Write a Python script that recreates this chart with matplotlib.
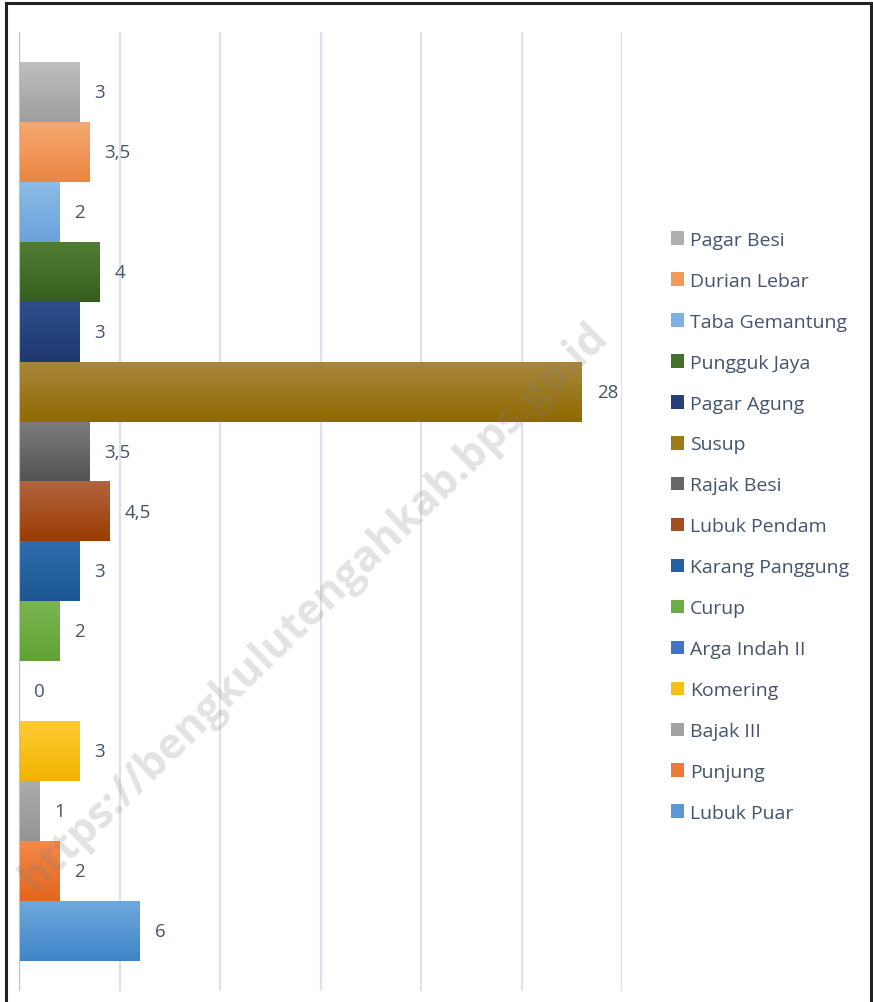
import numpy as np
import matplotlib
matplotlib.use("Agg")
import matplotlib.pyplot as plt
from matplotlib.colors import LinearSegmentedColormap
from matplotlib.patches import Rectangle, Patch

# Data (top to bottom as shown in the chart)
villages = ["Pagar Besi", "Durian Lebar", "Taba Gemantung", "Pungguk Jaya", "Pagar Agung",
            "Susup", "Rajak Besi", "Lubuk Pendam", "Karang Panggung", "Curup",
            "Arga Indah II", "Komering", "Bajak III", "Punjung", "Lubuk Puar"]
values = [3, 3.5, 2, 4, 3, 28, 3.5, 4.5, 3, 2, 0, 3, 1, 2, 6]
labels = ["3", "3,5", "2", "4", "3", "28", "3,5", "4,5", "3", "2", "0", "3", "1", "2", "6"]

# gradient colours (top, bottom) per bar
grad_top = ["#BEBEBE", "#F5A872", "#8CBBE6", "#517D36", "#2E4E8A", "#A8873C", "#7C7C7C",
            "#B2643F", "#2F6CAB", "#7BB552", "#4A78C8", "#FFCB35", "#ABABAB", "#F3894A", "#6FA8DD"]
grad_bot = ["#9E9E9E", "#EB8641", "#6AA2DA", "#365E1E", "#1E3870", "#8F6A00", "#525252",
            "#9A3C02", "#1D5794", "#61A236", "#3A66B8", "#F0B400", "#959595", "#E5661C", "#3E85C7"]
legend_col = ["#AFAFAF", "#F29A5C", "#7EB1E2", "#44702B", "#263F7B", "#9C7A18", "#666666",
              "#A54F20", "#26619F", "#6EAD45", "#4472C4", "#F9C013", "#A2A2A2", "#EE7A33", "#5A98D5"]

plt.rcParams['font.family'] = ['Open Sans', 'DejaVu Sans']

fig = plt.figure(figsize=(8.73, 10.03), dpi=100)
ax = fig.add_axes([19 / 873, (1003 - 992) / 1003, (622 - 19) / 873, (992 - 33) / 1003])

n = len(values)
ypos = np.arange(n)
bars = ax.barh(ypos, values, height=1.0, color="none", edgecolor="none", zorder=3)

for i, b in enumerate(bars):
    w = b.get_width()
    if w <= 0:
        continue
    y0 = b.get_y()
    h = b.get_height()
    cmap = LinearSegmentedColormap.from_list("g%d" % i, [grad_top[i], grad_bot[i]])
    grad = np.linspace(0, 1, 64).reshape(-1, 1)
    # y axis inverted: top of bar is y0
    ax.imshow(grad, cmap=cmap, aspect="auto", extent=(0, w, y0 + h, y0),
              origin="upper", zorder=3, interpolation="bilinear")

for i, b in enumerate(bars):
    ax.annotate(labels[i], xy=(b.get_width(), b.get_y() + b.get_height() / 2),
                xytext=(11, 0), textcoords="offset points", ha="left", va="center",
                fontsize=13.5, color="#44546A", zorder=5)

ax.set_xlim(0, 30)
ax.set_ylim(n - 0.5 + 0.5, -1.0)
ax.set_xticks(np.arange(0, 31, 5))
ax.set_yticks([])
ax.tick_params(axis="x", length=0, labelbottom=False)
ax.grid(axis="x", color="#DDE2EA", linewidth=1.6, zorder=0)
for s in ax.spines.values():
    s.set_visible(False)
ax.axvline(0, color="#BFBFBF", linewidth=0.8, zorder=4)

# watermark
fig.text(0.36, 0.395, "https://bengkulutengahkab.bps.go.id", rotation=44,
         fontsize=31, fontweight="bold", color="#7F7F7F", alpha=0.22,
         ha="center", va="center", family="Open Sans", zorder=10)

# legend
handles = [Patch(facecolor=c, edgecolor="none") for c in legend_col]
fig.legend(handles, villages, loc="upper left", bbox_to_anchor=(663 / 873, 1 - 224 / 1003),
           frameon=False, fontsize=14, labelcolor="#44546A", handlelength=0.7,
           handleheight=0.7, handletextpad=0.3, labelspacing=1.18, borderaxespad=0)

# chart frame
fig.patches.append(Rectangle((6 / 873, -0.01), (871 - 6) / 873, (1003 - 4) / 1003 + 0.01,
                             transform=fig.transFigure, fill=False, edgecolor="#222222",
                             linewidth=2.2, zorder=20))

fig.savefig("out.png", dpi=100)
